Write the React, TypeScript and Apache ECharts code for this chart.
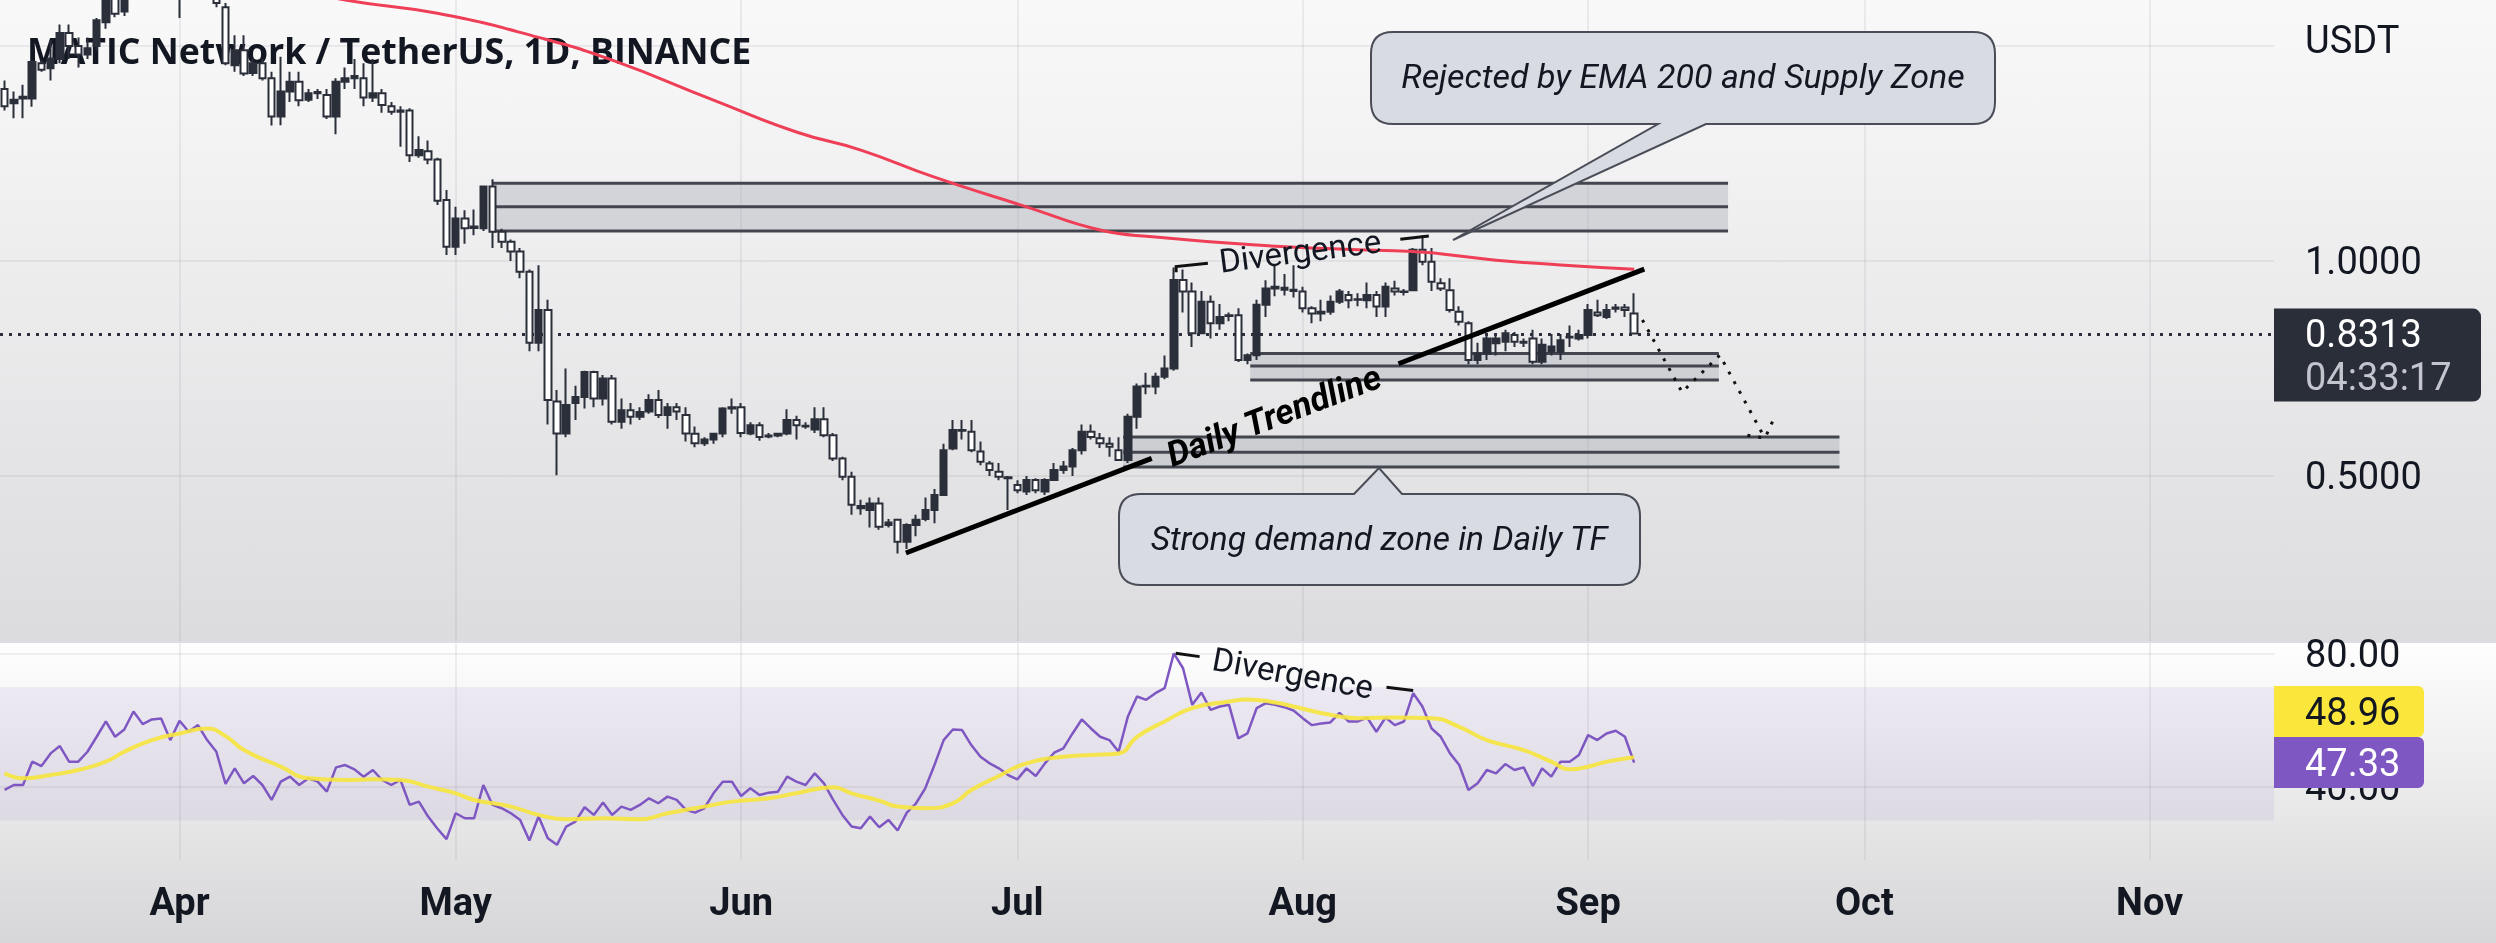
import React, { useEffect, useRef } from 'react';
import * as echarts from 'echarts';

// ---------- categories (daily, MATIC/USDT 2022) ----------
const START_UTC = Date.UTC(2022, 2, 13);
const DAY_COUNT = 247;
const MONTHS = ['Jan', 'Feb', 'Mar', 'Apr', 'May', 'Jun', 'Jul', 'Aug', 'Sep', 'Oct', 'Nov', 'Dec'];
const dates: string[] = [];
for (let i = 0; i < DAY_COUNT; i++) dates.push(new Date(START_UTC + i * 86400000).toISOString().slice(0, 10));

// ---------- candles [open, close, low, high] ----------
const candlesMar = [
  [1.40, 1.36, 1.35, 1.42], [1.367, 1.375, 1.332, 1.394], [1.378, 1.382, 1.332, 1.41], [1.378, 1.463, 1.359, 1.467],
  [1.46, 1.445, 1.44, 1.467], [1.448, 1.471, 1.42, 1.514], [1.47, 1.53, 1.46, 1.55], [1.53, 1.50, 1.47, 1.55],
  [1.50, 1.48, 1.45, 1.52], [1.48, 1.495, 1.47, 1.52], [1.50, 1.56, 1.49, 1.565], [1.555, 1.61, 1.54, 1.65],
  [1.61, 1.575, 1.567, 1.64], [1.58, 1.62, 1.57, 1.65], [1.62, 1.70, 1.61, 1.72], [1.70, 1.74, 1.68, 1.77],
  [1.74, 1.70, 1.66, 1.76], [1.70, 1.68, 1.65, 1.73], [1.68, 1.64, 1.62, 1.70],
];
const candlesApr = [
  [1.64, 1.68, 1.565, 1.70], [1.68, 1.66, 1.64, 1.72], [1.66, 1.70, 1.64, 1.73], [1.70, 1.65, 1.62, 1.72],
  [1.65, 1.60, 1.59, 1.66], [1.59, 1.46, 1.455, 1.60], [1.455, 1.49, 1.44, 1.525], [1.49, 1.436, 1.43, 1.525],
  [1.437, 1.46, 1.43, 1.47], [1.46, 1.425, 1.42, 1.47], [1.425, 1.336, 1.315, 1.44], [1.336, 1.394, 1.316, 1.475],
  [1.394, 1.417, 1.37, 1.44], [1.417, 1.374, 1.36, 1.44], [1.375, 1.39, 1.37, 1.40], [1.39, 1.393, 1.377, 1.40],
  [1.386, 1.336, 1.33, 1.40], [1.336, 1.417, 1.295, 1.425], [1.417, 1.425, 1.40, 1.45], [1.425, 1.43, 1.40, 1.47],
  [1.425, 1.38, 1.36, 1.46], [1.38, 1.39, 1.37, 1.47], [1.39, 1.363, 1.345, 1.40], [1.36, 1.347, 1.34, 1.37],
  [1.35, 1.347, 1.266, 1.36], [1.35, 1.246, 1.23, 1.355], [1.246, 1.258, 1.24, 1.29], [1.255, 1.236, 1.225, 1.28],
  [1.236, 1.14, 1.13, 1.24], [1.142, 1.033, 1.014, 1.165],
];
const candlesMay = [
  [1.033, 1.099, 1.014, 1.126], [1.099, 1.076, 1.04, 1.118], [1.077, 1.08, 1.06, 1.12], [1.076, 1.173, 1.07, 1.173],
  [1.173, 1.068, 1.03, 1.19], [1.068, 1.045, 1.03, 1.075], [1.045, 1.022, 1.0, 1.05], [1.022, 0.975, 0.96, 1.03],
  [0.975, 0.81, 0.79, 0.98], [0.81, 0.886, 0.79, 0.99], [0.886, 0.677, 0.62, 0.91], [0.673, 0.599, 0.502, 0.70],
  [0.599, 0.665, 0.59, 0.75], [0.67, 0.684, 0.63, 0.71], [0.684, 0.742, 0.657, 0.745], [0.742, 0.68, 0.66, 0.745],
  [0.68, 0.727, 0.664, 0.735], [0.727, 0.626, 0.62, 0.735], [0.626, 0.653, 0.61, 0.68], [0.653, 0.638, 0.62, 0.67],
  [0.638, 0.649, 0.63, 0.66], [0.65, 0.677, 0.645, 0.69], [0.677, 0.642, 0.635, 0.70], [0.642, 0.66, 0.61, 0.67],
  [0.66, 0.65, 0.63, 0.67], [0.642, 0.599, 0.58, 0.66], [0.598, 0.576, 0.567, 0.615], [0.576, 0.585, 0.57, 0.59],
  [0.585, 0.598, 0.575, 0.60], [0.599, 0.657, 0.59, 0.66], [0.657, 0.66, 0.645, 0.68],
];
const candlesJun = [
  [0.66, 0.60, 0.59, 0.67], [0.599, 0.618, 0.595, 0.625], [0.618, 0.591, 0.582, 0.625], [0.592, 0.594, 0.588, 0.60],
  [0.594, 0.598, 0.59, 0.60], [0.599, 0.63, 0.595, 0.655], [0.63, 0.618, 0.585, 0.64], [0.617, 0.615, 0.61, 0.625],
  [0.608, 0.632, 0.60, 0.66], [0.632, 0.595, 0.59, 0.66], [0.595, 0.541, 0.535, 0.60], [0.541, 0.498, 0.49, 0.545],
  [0.498, 0.433, 0.41, 0.51], [0.425, 0.43, 0.41, 0.445], [0.421, 0.436, 0.38, 0.45], [0.436, 0.382, 0.375, 0.45],
  [0.386, 0.392, 0.38, 0.40], [0.398, 0.347, 0.32, 0.40], [0.347, 0.386, 0.33, 0.39], [0.386, 0.398, 0.36, 0.41],
  [0.40, 0.421, 0.395, 0.45], [0.421, 0.456, 0.39, 0.47], [0.456, 0.56, 0.455, 0.575], [0.564, 0.607, 0.56, 0.63],
  [0.607, 0.605, 0.585, 0.63], [0.603, 0.56, 0.555, 0.63], [0.557, 0.533, 0.525, 0.58], [0.529, 0.514, 0.50, 0.535],
  [0.51, 0.498, 0.49, 0.53], [0.497, 0.495, 0.421, 0.50],
];
const candlesJul = [
  [0.479, 0.467, 0.46, 0.49], [0.464, 0.491, 0.456, 0.50], [0.491, 0.467, 0.46, 0.495], [0.464, 0.491, 0.456, 0.495],
  [0.491, 0.514, 0.49, 0.53], [0.514, 0.522, 0.505, 0.535], [0.522, 0.56, 0.50, 0.565], [0.56, 0.603, 0.55, 0.62],
  [0.603, 0.591, 0.585, 0.62], [0.588, 0.576, 0.565, 0.60], [0.575, 0.568, 0.545, 0.59], [0.56, 0.537, 0.535, 0.59],
  [0.537, 0.638, 0.53, 0.645], [0.638, 0.708, 0.61, 0.715], [0.708, 0.71, 0.69, 0.74], [0.708, 0.731, 0.69, 0.74],
  [0.731, 0.75, 0.725, 0.78], [0.75, 0.956, 0.745, 0.985], [0.956, 0.929, 0.88, 0.98], [0.929, 0.832, 0.80, 0.95],
  [0.832, 0.905, 0.83, 0.93], [0.905, 0.855, 0.82, 0.92], [0.855, 0.87, 0.84, 0.90], [0.872, 0.874, 0.86, 0.88],
  [0.874, 0.77, 0.765, 0.89], [0.77, 0.781, 0.76, 0.785], [0.781, 0.898, 0.77, 0.91], [0.898, 0.936, 0.87, 0.955],
  [0.936, 0.94, 0.918, 0.99], [0.938, 0.933, 0.92, 0.97], [0.933, 0.93, 0.915, 0.99],
];
const candlesAug = [
  [0.929, 0.89, 0.88, 0.94], [0.89, 0.878, 0.855, 0.895], [0.878, 0.882, 0.86, 0.91], [0.882, 0.905, 0.875, 0.92],
  [0.905, 0.929, 0.90, 0.935], [0.921, 0.909, 0.89, 0.93], [0.91, 0.911, 0.895, 0.925], [0.909, 0.921, 0.89, 0.95],
  [0.921, 0.894, 0.87, 0.93], [0.894, 0.94, 0.87, 0.95], [0.936, 0.929, 0.92, 0.954], [0.929, 0.928, 0.92, 0.935],
  [0.932, 1.026, 0.93, 1.03], [1.026, 0.998, 0.99, 1.06], [0.998, 0.952, 0.93, 1.03], [0.948, 0.936, 0.93, 0.96],
  [0.932, 0.886, 0.88, 0.96], [0.882, 0.859, 0.85, 0.895], [0.855, 0.77, 0.76, 0.86], [0.77, 0.785, 0.76, 0.81],
  [0.785, 0.82, 0.77, 0.83], [0.809, 0.82, 0.78, 0.83], [0.812, 0.832, 0.79, 0.84], [0.828, 0.812, 0.80, 0.835],
  [0.812, 0.81, 0.80, 0.82], [0.82, 0.766, 0.76, 0.84], [0.766, 0.805, 0.76, 0.82], [0.789, 0.801, 0.78, 0.83],
  [0.789, 0.816, 0.77, 0.83], [0.822, 0.824, 0.80, 0.85], [0.82, 0.828, 0.815, 0.84],
];
const candlesSep = [
  [0.828, 0.886, 0.82, 0.90], [0.88, 0.874, 0.87, 0.91], [0.87, 0.886, 0.865, 0.90], [0.889, 0.892, 0.88, 0.90],
  [0.892, 0.886, 0.87, 0.90], [0.878, 0.8313, 0.83, 0.925],
];
const candles = [...candlesMar, ...candlesApr, ...candlesMay, ...candlesJun, ...candlesJul, ...candlesAug, ...candlesSep];

const lastPrice = 0.8313;
const countdown = '04:33:17';
const priceUnit = 'USDT';
const title = 'MATIC Network / TetherUS, 1D, BINANCE';

// EMA 200 read at sample days [dayIndex, value]
const emaPoints = [
  [20, 1.68], [30, 1.64], [37, 1.607], [47, 1.576], [58, 1.52], [66, 1.467], [77, 1.374], [86, 1.30],
  [93, 1.258], [101, 1.195], [111, 1.126], [119, 1.072], [125, 1.056], [136, 1.037], [145, 1.028],
  [153, 1.022], [155, 1.019], [162, 1.002], [169, 0.991], [177, 0.981],
];

// RSI (14) daily values
const rsiValues = [
  39.1, 40.6, 40.6, 47.6, 46.3, 50.1, 52.3, 47.6, 47.6, 50.6,
  55.1, 59.7, 55.1, 57.3, 62.7, 58.9, 60.3, 60.6, 54.1,
  59.9, 56.6, 58.6, 54.1, 50.6, 40.9, 45.6, 41.1, 43.3, 40.6,
  36.1, 41.6, 43.1, 40.6, 42.6, 41.6, 38.6, 45.9, 46.6, 45.3,
  43.1, 45.1, 42.1, 40.6, 42.1, 34.6, 35.6, 31.1, 27.5, 24.3,
  32.1, 30.6, 30.6, 40.6, 34.6, 33.6, 32.1, 30.1, 23.9, 31.1,
  24.6, 22.6, 28.1, 29.6, 33.9, 31.6, 35.3, 31.6, 34.1, 33.1,
  34.6, 36.6, 35.1, 37.1, 36.1, 33.1, 32.3, 33.6, 38.1, 41.6, 41.6,
  37.3, 39.6, 37.6, 38.3, 38.6, 43.1, 41.6, 40.6, 44.1, 41.1,
  36.1, 31.6, 28.1, 27.6, 31.1, 27.9, 30.1, 26.9, 32.3, 35.1,
  39.6, 46.6, 54.1, 57.3, 57.1, 52.6, 49.1, 47.1, 45.6, 43.6,
  42.3, 45.6, 43.3, 47.1, 50.3, 51.6, 56.1, 60.3, 57.6, 55.1,
  54.1, 50.6, 61.1, 67.2, 66.2, 68.2, 69.7, 80.2, 75.7, 64.7,
  68.4, 63.2, 64.2, 64.7, 54.6, 56.1, 63.7, 65.2, 64.7, 64.0, 63.0,
  60.7, 58.6, 59.1, 59.4, 62.3, 59.7, 59.7, 60.9, 56.6, 60.9,
  58.6, 59.7, 68.2, 64.2, 57.6, 55.1, 50.1, 46.6, 39.1, 41.1,
  45.1, 44.1, 46.9, 45.1, 45.9, 40.3, 45.6, 43.1, 47.6, 47.6, 49.6,
  55.6, 54.1, 56.1, 56.9, 55.1, 47.33,
];
const rsiLast = 47.33;

// RSI-based MA read at sample days
const rsiMaPoints = [
  [0, 44.1], [2, 42.6], [5, 43.6], [8, 45.1], [11, 47.6], [13, 50.6], [16, 54.1], [19, 56.1], [22, 57.6],
  [24, 55.3], [26, 51.1], [30, 46.1], [33, 42.6], [37, 42.1], [40, 42.3], [43, 42.1], [46, 40.1], [49, 38.1],
  [51, 36.1], [55, 34.1], [58, 31.6], [61, 30.3], [65, 30.6], [69, 30.3], [72, 32.1], [76, 34.1], [79, 35.6],
  [83, 36.6], [86, 38.1], [90, 39.9], [92, 38.1], [95, 35.9], [97, 34.1], [100, 33.6], [103, 35.1], [105, 39.1],
  [108, 43.3], [111, 47.1], [115, 49.1], [118, 49.6], [121, 50.1], [123, 55.1], [126, 59.7], [129, 63.7],
  [133, 65.7], [135, 66.3], [138, 65.4], [140, 64.2], [144, 61.7], [147, 60.7], [151, 60.9], [155, 60.7],
  [158, 58.1], [161, 54.1], [165, 51.1], [168, 47.6], [170, 45.3], [172, 46.1], [174, 47.6], [177, 48.96],
];
const rsiMaLast = 48.96;

const priceTicks = [0.5, 1.0, 1.5];
const priceLabels = [0.5, 1.0];
const rsiTicks = [40, 80];
const rsiBand = [30, 70];

// drawings (day index, price)
const zoneFrom = [52.95, 135.3, 121.5];
const zoneTo = [187.2, 186.2, 199.3];
const zoneLevels = [
  [1.181, 1.126, 1.070],
  [0.785, 0.756, 0.723],
  [0.591, 0.555, 0.521],
];
const trendlineParts = [
  [[97.9, 0.321], [124.6, 0.541]],
  [[151.4, 0.761], [178.1, 0.981]],
];
const projectionPaths = [
  [[177.9, 0.863], [182.2, 0.695], [186.3, 0.781], [191.2, 0.588]],
  [[189.3, 0.595], [191.2, 0.588], [192.1, 0.630]],
];
const priceDivergence = [
  [[127.25, 0.974], [127.25, 0.987], [130.7, 0.995]],
  [[151.6, 1.0505], [154.7, 1.058]],
];
const rsiDivergence = [
  [[127.2, 80.2], [129.8, 79.2]],
  [[150.1, 70.0], [153.0, 69.0]],
];

// ---------- callout outlines ----------
const CALLOUT_SUPPLY = 'M1393 32 H1973 Q1995 32 1995 54 V102 Q1995 124 1973 124 H1706 L1453 240 L1658 124 H1393 Q1371 124 1371 102 V54 Q1371 32 1393 32 Z';
const CALLOUT_DEMAND = 'M1141 494 H1354 L1379 468 L1402 494 H1618 Q1640 494 1640 516 V563 Q1640 585 1618 585 H1141 Q1119 585 1119 563 V516 Q1119 494 1141 494 Z';
echarts.graphic.registerShape('calloutSupply', echarts.graphic.extendPath(CALLOUT_SUPPLY, {}));
echarts.graphic.registerShape('calloutDemand', echarts.graphic.extendPath(CALLOUT_DEMAND, {}));

const INK = '#131722';
const CANDLE = '#2b2f3a';
const GRID_COLOR = 'rgba(110,112,125,0.14)';
const FONT = 'Roboto, "Noto Sans", sans-serif';
const AXIS_FONT_SIZE = 38;

const monthStart = (_: number, v: string) => typeof v === 'string' && v.slice(8) === '01';

function xAt(api: any, k: number) {
  const k0 = Math.floor(k);
  return api.coord([k0, 0])[0] + (k - k0) * api.size([1, 0])[0];
}

function polylineSeries(paths: number[][][], axisIdx: number, style: any, z: number) {
  return {
    type: 'custom',
    xAxisIndex: axisIdx,
    yAxisIndex: axisIdx,
    z,
    silent: true,
    data: paths.map((p, i) => [i, p[0][1]]),
    renderItem: (params: any, api: any) => {
      const path = paths[params.dataIndex];
      const pts = path.map(([k, v]) => [xAt(api, k), api.coord([0, v])[1]]);
      return { type: 'polyline', shape: { points: pts }, style: { fill: null, ...style } };
    },
  };
}

function txt(text: string, x: number, y: number, opts: any = {}) {
  return {
    type: 'text',
    x,
    y,
    rotation: opts.rotation || 0,
    z: opts.z ?? 50,
    silent: true,
    style: {
      text,
      fill: opts.fill || INK,
      fontSize: opts.fontSize || 30,
      fontFamily: opts.fontFamily || FONT,
      fontWeight: opts.fontWeight || 'normal',
      fontStyle: opts.fontStyle || 'normal',
      align: opts.align || 'center',
      textAlign: opts.align || 'center',
      verticalAlign: 'middle',
      textVerticalAlign: 'middle',
    },
  };
}

function buildOption() {
  const xBase = {
    type: 'category',
    data: dates,
    boundaryGap: true,
    axisLine: { show: false },
    axisTick: { show: false },
    splitLine: { show: true, interval: monthStart, alignWithLabel: true, lineStyle: { color: GRID_COLOR, width: 1.5 } },
  };
  const yBase = {
    type: 'value',
    position: 'right',
    axisLine: { show: false },
    splitLine: { show: true, lineStyle: { color: GRID_COLOR, width: 1.5 } },
  };
  return {
    animation: false,
    grid: [
      { left: 0, top: 0, width: 2274, height: 641, show: false },
      { left: 0, top: 643, width: 2274, height: 217, show: false },
    ],
    xAxis: [
      { ...xBase, gridIndex: 0, axisLabel: { show: false } },
      {
        ...xBase,
        gridIndex: 1,
        axisLabel: {
          show: true,
          interval: monthStart,
          formatter: (v: string) => MONTHS[Number(v.slice(5, 7)) - 1],
          fontSize: 38,
          fontWeight: 'bold',
          fontFamily: FONT,
          color: INK,
          margin: 23,
        },
      },
    ],
    yAxis: [
      {
        ...yBase,
        gridIndex: 0,
        min: 0.1163,
        max: 1.607,
        axisTick: { show: false, customValues: priceTicks },
        axisLabel: {
          customValues: priceLabels,
          formatter: (v: number) => v.toFixed(4),
          fontSize: AXIS_FONT_SIZE,
          fontFamily: FONT,
          color: INK,
          margin: 31,
        },
      },
      {
        ...yBase,
        gridIndex: 1,
        min: 18.04,
        max: 83.3,
        axisTick: { show: false, customValues: rsiTicks },
        axisLabel: {
          customValues: rsiTicks,
          formatter: (v: number) => v.toFixed(2),
          fontSize: AXIS_FONT_SIZE,
          fontFamily: FONT,
          color: INK,
          margin: 31,
        },
      },
    ],
    series: [
      {
        type: 'custom',
        name: 'zones',
        xAxisIndex: 0,
        yAxisIndex: 0,
        z: 1,
        silent: true,
        data: zoneFrom.map((_, i) => [i, zoneLevels[i][0]]),
        renderItem: (params: any, api: any) => {
          const i = params.dataIndex;
          const x0 = xAt(api, zoneFrom[i]);
          const x1 = xAt(api, zoneTo[i]);
          const ys = zoneLevels[i].map((v) => api.coord([0, v])[1]);
          return {
            type: 'group',
            children: [
              { type: 'rect', shape: { x: x0, y: ys[0], width: x1 - x0, height: ys[2] - ys[0] }, style: { fill: 'rgba(172,174,184,0.42)' } },
              ...ys.map((y: number) => ({ type: 'line', shape: { x1: x0, y1: y, x2: x1, y2: y }, style: { stroke: '#43464f', lineWidth: 3 } })),
            ],
          };
        },
        markLine: {
          silent: true,
          z: 1,
          symbol: ['none', 'none'],
          label: { show: false },
          lineStyle: { color: CANDLE, width: 3, type: [3, 6] },
          data: [{ yAxis: lastPrice }],
        },
      },
      {
        type: 'candlestick',
        name: 'MATICUSDT',
        xAxisIndex: 0,
        yAxisIndex: 0,
        z: 2,
        barWidth: 7,
        data: candles,
        itemStyle: { color: CANDLE, color0: '#ffffff', borderColor: CANDLE, borderColor0: CANDLE, borderWidth: 2 },
      },
      {
        type: 'line',
        name: 'EMA 200',
        xAxisIndex: 0,
        yAxisIndex: 0,
        z: 3,
        smooth: true,
        showSymbol: false,
        silent: true,
        data: emaPoints.map(([k, v]) => [dates[k], v]),
        lineStyle: { color: '#ee3f57', width: 3 },
      },
      polylineSeries(trendlineParts, 0, { stroke: '#000000', lineWidth: 5 }, 5),
      polylineSeries(projectionPaths, 0, { stroke: '#111111', lineWidth: 3, lineDash: [3, 8] }, 5),
      polylineSeries(priceDivergence, 0, { stroke: '#111111', lineWidth: 3 }, 5),
      {
        type: 'line',
        name: 'RSI',
        xAxisIndex: 1,
        yAxisIndex: 1,
        z: 3,
        showSymbol: false,
        silent: true,
        data: rsiValues,
        lineStyle: { color: '#7e57c2', width: 2.5 },
        markArea: {
          silent: true,
          itemStyle: { color: 'rgba(126,87,194,0.09)' },
          data: [[{ yAxis: rsiBand[0] }, { yAxis: rsiBand[1] }]],
        },
      },
      {
        type: 'line',
        name: 'RSI MA',
        xAxisIndex: 1,
        yAxisIndex: 1,
        z: 4,
        smooth: true,
        showSymbol: false,
        silent: true,
        data: rsiMaPoints.map(([k, v]) => [dates[k], v]),
        lineStyle: { color: '#f6e43c', width: 4, opacity: 0.9 },
      },
      polylineSeries(rsiDivergence, 1, { stroke: '#111111', lineWidth: 3 }, 5),
    ],
  };
}

function grad(a: string, b: string) {
  return new echarts.graphic.LinearGradient(0, 0, 0, 1, [
    { offset: 0, color: a },
    { offset: 1, color: b },
  ]);
}

function buildGraphic(yP: number, yR: number) {
  const els: any[] = [
    { type: 'rect', silent: true, z: -10, shape: { x: 0, y: 0, width: 2496, height: 641 }, style: { fill: grad('#f9f9fa', '#dcdcde') } },
    { type: 'rect', silent: true, z: -10, shape: { x: 0, y: 641, width: 2496, height: 2 }, style: { fill: '#dedde6' } },
    { type: 'rect', silent: true, z: -10, shape: { x: 0, y: 643, width: 2496, height: 300 }, style: { fill: grad('#fefefe', '#d6d6d8') } },
    txt(title, 27, 50, { align: 'left', fontSize: 35.7, fontWeight: 'bold', fontFamily: '"Open Sans", "Noto Sans", sans-serif', z: 1 }),
    txt(priceUnit, 2305, 40, { align: 'left', fontSize: AXIS_FONT_SIZE }),
    // last price tag
    { type: 'rect', z: 60, silent: true, shape: { x: 2274, y: yP - 25, width: 207, height: 93, r: [0, 8, 8, 0] }, style: { fill: '#2a2e39' } },
    txt(lastPrice.toFixed(4), 2305, yP, { align: 'left', fontSize: AXIS_FONT_SIZE, fill: '#ffffff', z: 61 }),
    txt(countdown, 2305, yP + 43, { align: 'left', fontSize: AXIS_FONT_SIZE, fill: '#c3c5cc', z: 61 }),
    // RSI tags
    { type: 'rect', z: 60, silent: true, shape: { x: 2274, y: yR - 25.5 - 51, width: 150, height: 51, r: [0, 6, 6, 0] }, style: { fill: '#fbe73b' } },
    txt(rsiMaLast.toFixed(2), 2305, yR - 51, { align: 'left', fontSize: AXIS_FONT_SIZE, fill: INK, z: 61 }),
    { type: 'rect', z: 60, silent: true, shape: { x: 2274, y: yR - 25.5, width: 150, height: 51, r: [0, 6, 6, 0] }, style: { fill: '#7e57c2' } },
    txt(rsiLast.toFixed(2), 2305, yR, { align: 'left', fontSize: AXIS_FONT_SIZE, fill: '#ffffff', z: 61 }),
    // callouts
    { type: 'calloutSupply', z: 40, silent: true, style: { fill: '#d8dbe2', stroke: '#4a4d57', lineWidth: 2 } },
    txt('Rejected by EMA 200 and Supply Zone', 1683, 76, { fontStyle: 'italic', fontSize: 34 }),
    { type: 'calloutDemand', z: 40, silent: true, style: { fill: '#d8dbe2', stroke: '#4a4d57', lineWidth: 2 } },
    txt('Strong demand zone in Daily TF', 1379, 538, { fontStyle: 'italic', fontSize: 33.5 }),
    // drawing labels
    txt('Divergence', 1300, 251, { fontSize: 33, rotation: (7.3 * Math.PI) / 180 }),
    txt('Daily Trendline', 1274, 416, { fontSize: 35, fontWeight: 'bold', fontStyle: 'italic', rotation: (21 * Math.PI) / 180, fill: '#000000' }),
    txt('Divergence', 1293, 673, { fontSize: 33, rotation: (-10.3 * Math.PI) / 180 }),
  ];
  return { elements: els };
}

export default function App() {
  const ref = useRef<HTMLDivElement>(null);
  useEffect(() => {
    if (!ref.current) return;
    const chart = echarts.init(ref.current, undefined, { renderer: 'svg' });
    chart.setOption(buildOption() as any);
    const yP = chart.convertToPixel({ yAxisIndex: 0 } as any, lastPrice) as unknown as number;
    const yR = chart.convertToPixel({ yAxisIndex: 1 } as any, rsiLast) as unknown as number;
    chart.setOption({ graphic: buildGraphic(yP, yR) } as any);
    return () => chart.dispose();
  }, []);
  return <div ref={ref} style={{ position: 'fixed', left: 0, top: 0, width: 2496, height: 943 }} />;
}
